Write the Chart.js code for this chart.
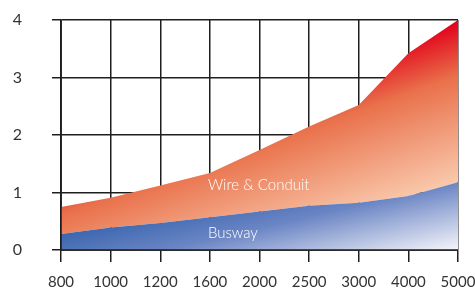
<!DOCTYPE html>
<html>
<head>
<meta charset="utf-8">
<script src="https://cdn.jsdelivr.net/npm/chart.js@4.4.1/dist/chart.umd.min.js"></script>
<style>
  html, body { margin: 0; padding: 0; background: #fff; }
  #wrap { width: 475px; height: 290px; }
</style>
</head>
<body>
<div id="wrap"><canvas id="myChart" width="475" height="290"></canvas></div>
<script>
// categorias do eixo x (espaçadas igualmente)
const categories = ['800', '1000', '1200', '1600', '2000', '2500', '3000', '4000', '5000'];
// valores
const busway = [0.28, 0.39, 0.47, 0.57, 0.67, 0.77, 0.82, 0.94, 1.18];
const wireConduit = [0.75, 0.91, 1.12, 1.34, 1.74, 2.15, 2.52, 3.42, 4.0];
const yTicks = [0, 1, 2, 3, 4];

const gridColor = '#1e1e1e';
const fontFamily = 'Lato, "Open Sans", sans-serif';

// gradiente vermelho -> pêssego
function wireGradient(context) {
    const chart = context.chart;
    const a = chart.chartArea;
    if (!a) return '#ea7a55';
    const w = a.right - a.left, h = a.bottom - a.top;
    const g = chart.ctx.createLinearGradient(a.right, a.top, a.right + 0.126 * w, a.top + 0.62 * h);
    g.addColorStop(0, '#e2001a');
    g.addColorStop(0.35, '#e9714b');
    g.addColorStop(1, '#f9c8ab');
    return g;
}

// gradiente azul -> quase branco
function buswayGradient(context) {
    const chart = context.chart;
    const a = chart.chartArea;
    if (!a) return '#5577bb';
    const w = a.right - a.left, h = a.bottom - a.top;
    const g = chart.ctx.createLinearGradient(a.left, a.top + 0.913 * h, a.left + 0.061 * w, a.top + 1.367 * h);
    g.addColorStop(0, '#3763ad');
    g.addColorStop(0.4, '#6a85c4');
    g.addColorStop(1, '#f2f2f9');
    return g;
}

// textos dentro das áreas + linhas dos eixos por cima
const overlayPlugin = {
    id: 'overlay',
    afterDatasetsDraw(chart) {
        const ctx = chart.ctx;
        const x = chart.scales.x, y = chart.scales.y;
        const a = chart.chartArea;
        ctx.save();
        ctx.strokeStyle = gridColor;
        ctx.lineWidth = 1.5;
        ctx.beginPath();
        ctx.moveTo(a.left, a.top);
        ctx.lineTo(a.left, a.bottom);
        ctx.lineTo(a.right, a.bottom);
        ctx.stroke();

        ctx.fillStyle = '#ffffff';
        ctx.font = '300 15px ' + fontFamily;
        ctx.textAlign = 'left';
        ctx.textBaseline = 'middle';
        const lx = x.getPixelForValue(3) - 2;
        ctx.fillText('Wire & Conduit', lx, y.getPixelForValue(1.13));
        ctx.fillText('Busway', lx, y.getPixelForValue(0.3));
        ctx.restore();
    }
};

const chartData = {
    labels: categories,
    datasets: [
        {
            label: 'Busway',
            data: busway,
            fill: 'origin',
            backgroundColor: buswayGradient,
            borderWidth: 0,
            pointRadius: 0,
            tension: 0
        },
        {
            label: 'Wire & Conduit',
            data: wireConduit,
            fill: '-1',
            backgroundColor: wireGradient,
            borderWidth: 0,
            pointRadius: 0,
            tension: 0
        }
    ]
};

const config = {
    type: 'line',
    data: chartData,
    options: {
        responsive: false,
        animation: false,
        layout: { padding: { top: 20, right: 17, left: 0, bottom: 0 } },
        plugins: {
            legend: { display: false },
            tooltip: { enabled: false }
        },
        scales: {
            x: {
                offset: false,
                grid: { color: gridColor, lineWidth: 1.5, tickLength: 12 },
                border: { color: gridColor, width: 1.5 },
                ticks: {
                    color: '#333',
                    font: { family: fontFamily, size: 15 },
                    padding: 11,
                    maxRotation: 0,
                    autoSkip: false
                },
                afterFit: function(scale) {
                    scale.height = 40;
                    scale.paddingLeft = 0;
                    scale.paddingRight = 0;
                }
            },
            y: {
                min: 0,
                max: 4,
                afterBuildTicks: function(scale) {
                    scale.ticks = yTicks.map(v => ({ value: v }));
                },
                grid: { color: gridColor, lineWidth: 1.5, tickLength: 9 },
                border: { color: gridColor, width: 1.5 },
                ticks: {
                    color: '#333',
                    font: { family: fontFamily, size: 16 },
                    padding: 30
                },
                afterFit: function(scale) {
                    scale.width = 61;
                    scale.paddingTop = 0;
                    scale.paddingBottom = 0;
                }
            }
        }
    },
    plugins: [overlayPlugin]
};

const myChart = new Chart(document.getElementById('myChart').getContext('2d'), config);
</script>
</body>
</html>
